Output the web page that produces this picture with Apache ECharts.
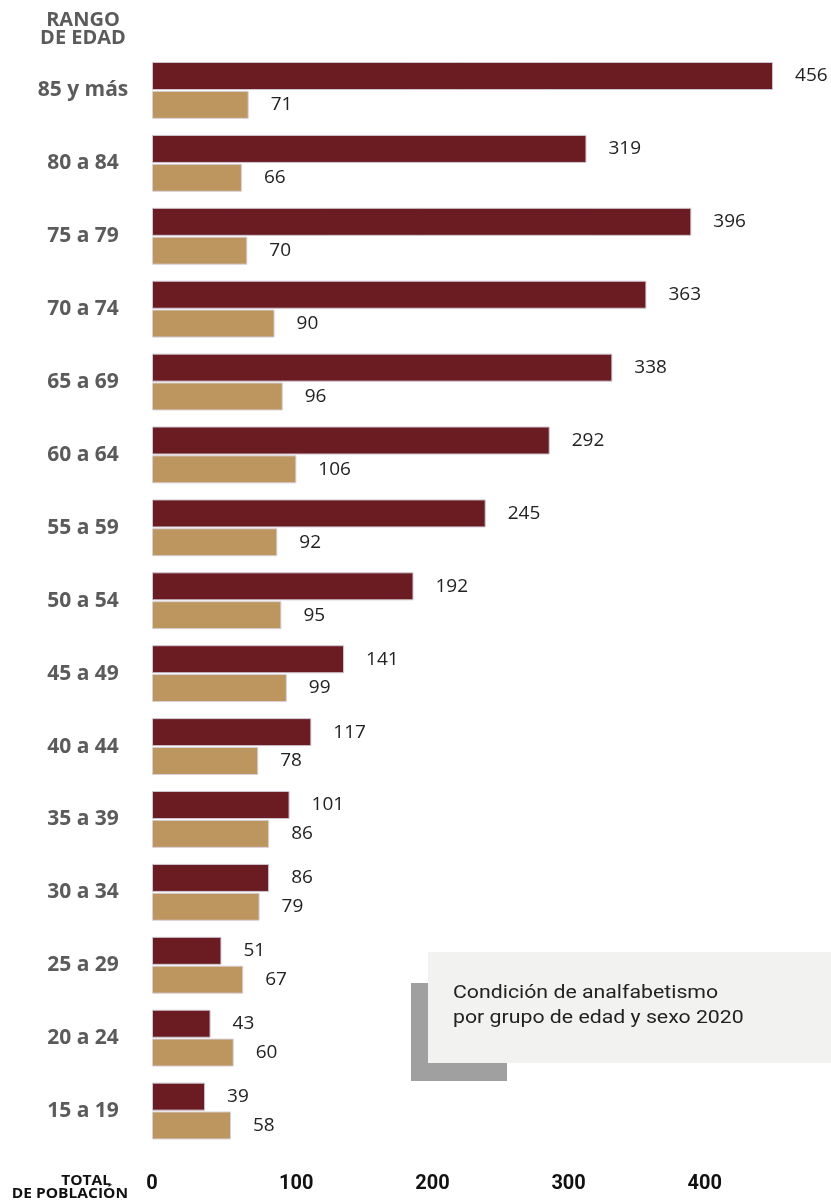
<!DOCTYPE html>
<html>
<head>
<meta charset="utf-8">
<script src="https://cdn.jsdelivr.net/npm/echarts@6/dist/echarts.min.js"></script>
<style>html,body{margin:0;padding:0;background:#fff}#c{width:831px;height:1203px}</style>
</head>
<body>
<div id="c"></div>
<script>
const categories = ['85 y más','80 a 84','75 a 79','70 a 74','65 a 69','60 a 64','55 a 59','50 a 54','45 a 49','40 a 44','35 a 39','30 a 34','25 a 29','20 a 24','15 a 19'];
const seriesA = [456,319,396,363,338,292,245,192,141,117,101,86,51,43,39];
const seriesB = [71,66,70,90,96,106,92,95,99,78,86,79,67,60,58];
const xTicks = [0,100,200,300,400];

const chart = echarts.init(document.getElementById('c'), null, {renderer:'canvas'});
const labelStyle = {show:true, position:'right', distance:22, color:'#222', fontFamily:'Open Sans', fontSize:19};
chart.setOption({
  animation:false,
  backgroundColor:'#fff',
  grid:{left:152, top:54, width:681, height:1093.5, containLabel:false, outerBoundsMode:'none'},
  xAxis:{type:'value', min:0, max:500, interval:100,
    axisLine:{show:false}, axisTick:{show:false}, splitLine:{show:false},
    axisLabel:{margin:26, formatter:function(v){return xTicks.indexOf(v)<0?'':(v===0?'{z|0}':'{n|'+v+'}');},
      rich:{z:{fontFamily:'Roboto',fontWeight:'bold',fontSize:20,color:'#111'},
            n:{fontFamily:'Roboto',fontWeight:'bold',fontSize:20,color:'#111',padding:[0,0,0,16]}}}},
  yAxis:{type:'category', data:categories, inverse:true,
    axisLine:{show:false}, axisTick:{show:false},
    axisLabel:{margin:69, align:'center', fontFamily:'Open Sans', fontWeight:'bold', fontSize:21, color:'#5b5b5b'}},
  series:[
    {type:'bar', data:seriesA, barWidth:28, barGap:'3%', itemStyle:{color:'#6a1c22', borderColor:'#cfc6d0', borderWidth:1}, label:labelStyle},
    {type:'bar', data:seriesB, barWidth:28, barGap:'3%', itemStyle:{color:'#bc955f', borderColor:'#d8d0d8', borderWidth:1}, label:labelStyle}
  ],
  graphic:[
    {type:'text', x:83, y:20, style:{text:'RANGO', fontFamily:'Open Sans', fontWeight:'bold', fontSize:20, fill:'#5b5b5b', textAlign:'center', textVerticalAlign:'middle'}},
    {type:'text', x:83, y:38.5, style:{text:'DE EDAD', fontFamily:'Open Sans', fontWeight:'bold', fontSize:20, fill:'#5b5b5b', textAlign:'center', textVerticalAlign:'middle'}},
    {type:'text', x:111, y:1181, scaleX:1.15, originX:0, originY:0, style:{text:'TOTAL', fontFamily:'Open Sans', fontWeight:'bold', fontSize:13.5, fill:'#111', textAlign:'right', textVerticalAlign:'middle'}},
    {type:'text', x:128, y:1194, scaleX:1.15, originX:0, originY:0, style:{text:'DE POBLACIÓN', fontFamily:'Open Sans', fontWeight:'bold', fontSize:13.5, fill:'#111', textAlign:'right', textVerticalAlign:'middle'}},
    {type:'rect', shape:{x:411, y:983, width:96, height:98}, style:{fill:'#a0a0a0'}},
    {type:'rect', shape:{x:428, y:952, width:403, height:111}, style:{fill:'#f2f2f0'}},
    {type:'text', x:453, y:993, scaleX:1.12, originX:0, originY:0, style:{text:'Condición de analfabetismo', fontFamily:'Roboto', fontSize:19, fill:'#222', textVerticalAlign:'middle'}},
    {type:'text', x:453, y:1018, scaleX:1.12, originX:0, originY:0, style:{text:'por grupo de edad y sexo 2020', fontFamily:'Roboto', fontSize:19, fill:'#222', textVerticalAlign:'middle'}}
  ]
});
</script>
</body>
</html>
